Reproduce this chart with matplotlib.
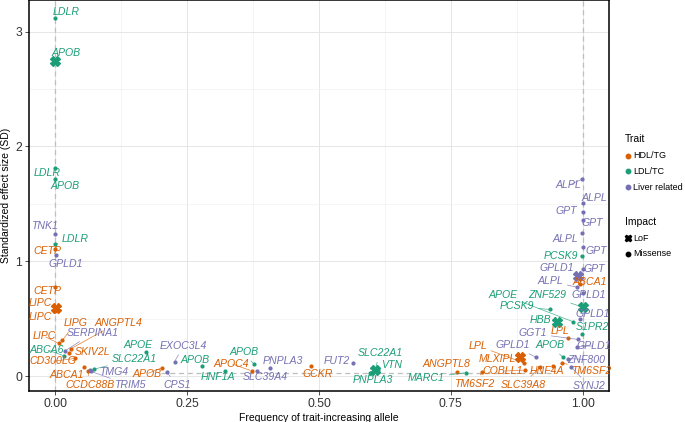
import matplotlib
matplotlib.use("Agg")
import matplotlib.pyplot as plt
from matplotlib.lines import Line2D
import numpy as np

plt.rcParams['font.family'] = ['Liberation Sans', 'DejaVu Sans']

# ---------------- data ----------------
genes = ["LDLR", "APOB", "LDLR", "APOB", "TNK1", "LDLR", "CETP", "GPLD1", "CETP",
         "LIPC", "LIPC", "LIPC", "LIPG", "ANGPTL4", "SERPINA1", "ABCA6", "SKIV2L",
         "CD300LG", "ABCA1", "CCDC88B", "TMG4", "TRIM5", "SLC22A1", "APOE", "APOB",
         "CPS1", "EXOC3L4", "APOB", "HNF1A", "APOC4", "APOB", "SLC39A4", "PNPLA3",
         "GCKR", "FUT2", "SLC22A1", "VTN", "PNPLA3", "MARC1", "ANGPTL8", "TM6SF2",
         "COBLL1", "SLC39A8", "MLXIPL", "LPL", "GPLD1", "HNF4A", "APOB", "TM6SF2",
         "ZNF800", "SYNJ2", "GGT1", "LPL", "GPLD1", "S1PR2", "HBB", "PCSK9", "GPLD1",
         "APOE", "ZNF529", "GPLD1", "GPT", "ALPL", "ABCA1", "GPLD1", "PCSK9", "GPT",
         "ALPL", "GPT", "GPT", "ALPL", "ALPL"]
freq = [0.000, 0.000, 0.000, 0.000, 0.000, 0.000, 0.000, 0.002, 0.000,
        0.001, 0.000, 0.006, 0.013, 0.030, 0.018, 0.016, 0.026,
        0.038, 0.054, 0.062, 0.066, 0.068, 0.073, 0.172, 0.202,
        0.212, 0.226, 0.278, 0.322, 0.372, 0.376, 0.383, 0.408,
        0.485, 0.564, 0.606, 0.612, 0.597, 0.778, 0.762, 0.810,
        0.890, 0.919, 0.881, 0.888, 0.912, 0.943, 0.963, 0.960,
        0.972, 0.978, 0.991, 0.972, 0.990, 0.998, 0.952, 0.938, 0.995,
        0.982, 1.000, 0.991, 1.000, 0.990, 0.995, 1.000, 0.998, 1.000,
        0.998, 1.000, 1.000, 1.000, 0.998]
effect = [3.116, 2.747, 1.810, 1.716, 1.234, 1.147, 1.104, 1.054, 0.773,
          0.590, 0.566, 0.285, 0.310, 0.240, 0.218, 0.177, 0.205,
          0.154, 0.076, 0.046, 0.052, 0.040, 0.060, 0.206, 0.072,
          0.032, 0.125, 0.090, 0.044, 0.046, 0.105, 0.044, 0.066,
          0.090, 0.110, 0.052, 0.055, 0.023, 0.029, 0.037, 0.037,
          0.052, 0.080, 0.168, 0.116, 0.163, 0.087, 0.163, 0.116,
          0.153, 0.080, 0.319, 0.328, 0.255, 0.370, 0.473, 0.580, 0.500,
          0.473, 0.600, 0.871, 0.930, 0.773, 0.800, 0.720, 1.045, 1.126,
          1.248, 1.359, 1.430, 1.504, 1.713]
trait = ["LDL/TC", "LDL/TC", "LDL/TC", "LDL/TC", "Liver related", "LDL/TC", "HDL/TG", "Liver related", "HDL/TG",
         "HDL/TG", "HDL/TG", "HDL/TG", "HDL/TG", "HDL/TG", "Liver related", "LDL/TC", "HDL/TG",
         "HDL/TG", "HDL/TG", "HDL/TG", "Liver related", "Liver related", "LDL/TC", "LDL/TC", "HDL/TG",
         "Liver related", "Liver related", "LDL/TC", "LDL/TC", "HDL/TG", "LDL/TC", "Liver related", "Liver related",
         "HDL/TG", "Liver related", "LDL/TC", "LDL/TC", "LDL/TC", "LDL/TC", "HDL/TG", "HDL/TG",
         "HDL/TG", "HDL/TG", "HDL/TG", "HDL/TG", "Liver related", "HDL/TG", "LDL/TC", "HDL/TG",
         "Liver related", "Liver related", "Liver related", "HDL/TG", "Liver related", "LDL/TC", "LDL/TC", "LDL/TC", "Liver related",
         "LDL/TC", "LDL/TC", "Liver related", "Liver related", "Liver related", "HDL/TG", "Liver related", "LDL/TC", "Liver related",
         "Liver related", "Liver related", "Liver related", "Liver related", "Liver related"]
impact = ["Missense", "LoF", "Missense", "Missense", "Missense", "Missense", "Missense", "Missense", "Missense",
          "LoF", "Missense", "Missense", "Missense", "Missense", "Missense", "Missense", "Missense",
          "Missense", "Missense", "Missense", "Missense", "Missense", "Missense", "Missense", "Missense",
          "Missense", "Missense", "Missense", "Missense", "Missense", "Missense", "Missense", "Missense",
          "Missense", "Missense", "LoF", "Missense", "Missense", "Missense", "Missense", "Missense",
          "Missense", "Missense", "LoF", "Missense", "Missense", "Missense", "Missense", "Missense",
          "Missense", "Missense", "Missense", "Missense", "Missense", "Missense", "LoF", "Missense", "Missense",
          "Missense", "LoF", "LoF", "Missense", "Missense", "Missense", "Missense", "Missense", "Missense",
          "Missense", "Missense", "Missense", "Missense", "Missense"]

trait_levels = ["HDL/TG", "LDL/TC", "Liver related"]
impact_levels = ["LoF", "Missense"]
x_ticks = [0.0, 0.25, 0.5, 0.75, 1.0]
x_ticklabels = ["0.00", "0.25", "0.50", "0.75", "1.00"]
y_ticks = [0, 1, 2, 3]

# ---------------- style / layout ----------------
colors = {"HDL/TG": "#D95F02", "LDL/TC": "#1B9E77", "Liver related": "#7570B3"}
# label offsets (pixels, right/up) relative to each point (repel layout)
label_offsets = [(11, 6), (11, 8), (-8, -5), (10, -7), (-11, 8), (20, 5), (-8, -2), (9, -9), (-8, -4),
                 (-16, 5), (-15, -6), (-14, 7), (13, 17), (47, 26), (28, 18), (-17, 6), (23, 1),
                 (-23, -3), (-17, -8), (2, -14), (23, -2), (39, -14), (40, 10), (-8, 7), (-15, -6),
                 (10, -13), (9, 16), (-7, 6), (-7, -6), (-20, 7), (-10, 12), (8, -6), (12, 7),
                 (7, -8), (-16, 2), (5, 17), (14, 5), (3, -7), (-39, -5), (-11, 8), (-8, -12),
                 (-22, -1), (-17, -18), (-23, -2), (-46, 17), (-24, 12), (-6, -5), (-13, 12), (30, -8),
                 (18, -1), (18, -19), (-45, 6), (-8, 7), (16, 1), (11, 7), (-17, 2), (-33, 3), (13, 5),
                 (-70, 27), (-35, 12), (-21, 8), (12, 0), (-27, 6), (10, 2), (6, -2), (-21, 0), (14, -4),
                 (-16, -6), (10, -3), (-16, 1), (12, 5), (-13, -6)]

W, H = 685, 422
fig = plt.figure(figsize=(W / 100, H / 100), dpi=100)
ax = fig.add_axes([29 / W, 1 - 391 / H, (609 - 29) / W, 391 / H])

ax.set_xlim(-0.05, 1.05)
ax.set_ylim(-0.13, 3.275)

# grid
ax.set_xticks(x_ticks)
ax.set_xticklabels(x_ticklabels)
ax.set_yticks(y_ticks)
ax.set_xticks(np.arange(0.125, 1.0, 0.25), minor=True)
ax.set_yticks(np.arange(0.5, 3.3, 1.0), minor=True)
ax.grid(which='major', color='#E6E6E6', lw=0.7)
ax.grid(which='minor', color='#F2F2F2', lw=0.5)
ax.set_axisbelow(True)
ax.tick_params(which='minor', length=0)
ax.tick_params(which='major', length=3, width=0.6, color='#333333', labelsize=8.7,
               labelcolor='#333333', pad=2)
for s in ax.spines.values():
    s.set_color('black')
    s.set_linewidth(1.1)

# reference lines
for xv in (0.0, 1.0):
    ax.axvline(xv, color='#BDBDBD', lw=0.9, ls=(0, (4, 3)), zorder=1)
ax.plot([0.2, 0.95], [0.03, 0.03], color='#BDBDBD', lw=0.9, ls=(0, (4, 3)), zorder=1)

# points and labels
for g, xv, yv, t, im, off in zip(genes, freq, effect, trait, impact, label_offsets):
    c = colors[t]
    if im == "LoF":
        ax.plot(xv, yv, marker='X', ms=6.5, color=c, mec=c, ls='none', zorder=4)
    else:
        ax.plot(xv, yv, marker='o', ms=2.0, color=c, mec=c, ls='none', zorder=4)
    dist = np.hypot(*off)
    arrow = dict(arrowstyle='-', color=c, lw=0.5, shrinkA=1, shrinkB=1, alpha=0.8) if dist > 14 else None
    ax.annotate(g, (xv, yv), xytext=off, textcoords='offset pixels', ha='center', va='center',
                fontsize=7.6, style='italic', color=c, arrowprops=arrow, zorder=5)

ax.set_xlabel("Frequency of trait-increasing allele", fontsize=7.5, color='black', labelpad=2)
ax.set_ylabel("Standardized effect size (SD)", fontsize=7.5, color='black', labelpad=3)

# legend (manual)
fig.text(625 / W, 1 - 139 / H, "Trait", fontsize=7.5, ha='left', va='center')
for i, t in enumerate(trait_levels):
    yy = 1 - (156 + 15.5 * i) / H
    fig.add_artist(Line2D([628 / W], [yy], marker='o', ms=3.2, color=colors[t], ls='none',
                          transform=fig.transFigure))
    fig.text(633 / W, yy, t, fontsize=6.5, ha='left', va='center')
fig.text(625 / W, 1 - 222 / H, "Impact", fontsize=7.5, ha='left', va='center')
for i, (im, mk, ms) in enumerate(zip(impact_levels, ['X', 'o'], [4.5, 3.2])):
    yy = 1 - (238 + 16 * i) / H
    fig.add_artist(Line2D([628 / W], [yy], marker=mk, ms=ms, color='black', ls='none',
                          transform=fig.transFigure))
    fig.text(633 / W, yy, im, fontsize=6.5, ha='left', va='center')

fig.savefig("out.png", dpi=100)
